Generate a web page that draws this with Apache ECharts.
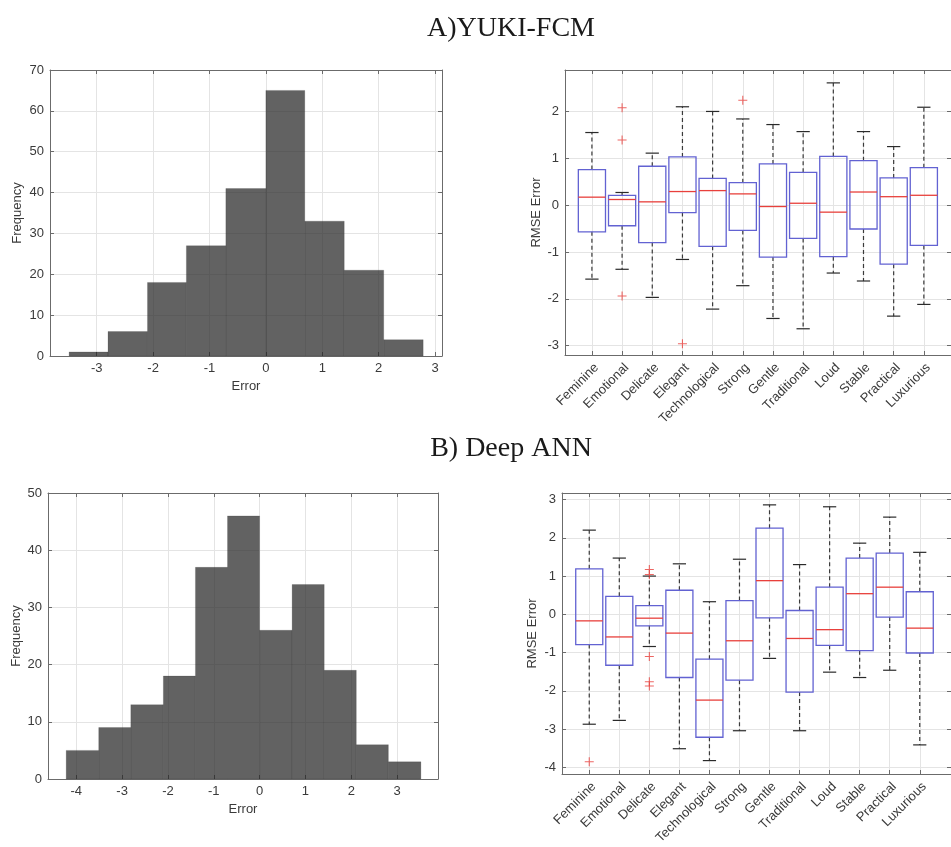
<!DOCTYPE html>
<html><head><meta charset="utf-8">
<script src="https://cdn.jsdelivr.net/npm/echarts@6/dist/echarts.min.js"></script>
<style>html,body{margin:0;padding:0;background:#fff}#c{width:951px;height:847px}</style>
</head><body><div id="c"></div>
<script>
// ---------- data ----------
const titles = ['A)YUKI-FCM', 'B) Deep ANN'];
const categories = ['Feminine','Emotional','Delicate','Elegant','Technological','Strong','Gentle','Traditional','Loud','Stable','Practical','Luxurious'];

// Histogram A (YUKI-FCM)
const histEdgesA = [-3.49, -2.80, -2.10, -1.41, -0.71, 0.00, 0.69, 1.39, 2.09, 2.79];
const histCountsA = [1, 6, 18, 27, 41, 65, 33, 21, 4];
const errTicksA = [-3, -2, -1, 0, 1, 2, 3];
const freqTicksA = [0, 10, 20, 30, 40, 50, 60, 70];

// Histogram B (Deep ANN)
const histEdgesB = [-4.22, -3.51, -2.81, -2.10, -1.40, -0.70, 0.00, 0.71, 1.41, 2.11, 2.81, 3.52];
const histCountsB = [5, 9, 13, 18, 37, 46, 26, 34, 19, 6, 3];
const errTicksB = [-4, -3, -2, -1, 0, 1, 2, 3];
const freqTicksB = [0, 10, 20, 30, 40, 50];

// Box plot A: [min, Q1, median, Q3, max]
const boxA = [
  [-1.58, -0.57, 0.17, 0.76, 1.55],
  [-1.37, -0.44, 0.12, 0.21, 0.27],
  [-1.97, -0.80, 0.07, 0.83, 1.11],
  [-1.16, -0.16, 0.29, 1.03, 2.10],
  [-2.22, -0.88, 0.31, 0.57, 2.00],
  [-1.72, -0.54, 0.24, 0.48, 1.84],
  [-2.42, -1.11, -0.03, 0.88, 1.72],
  [-2.64, -0.71, 0.04, 0.70, 1.57],
  [-1.45, -1.10, -0.15, 1.04, 2.61],
  [-1.62, -0.51, 0.28, 0.95, 1.57],
  [-2.37, -1.26, 0.18, 0.58, 1.25],
  [-2.12, -0.86, 0.21, 0.80, 2.09]
];
const outlierCatA = [2, 2, 2, 4, 6];
const outlierValA = [2.08, 1.39, -1.94, -2.96, 2.24];
const rmseTicksA = [-3, -2, -1, 0, 1, 2];

// Box plot B
const boxB = [
  [-2.87, -0.79, -0.17, 1.19, 2.20],
  [-2.77, -1.33, -0.59, 0.47, 1.47],
  [-0.84, -0.30, -0.10, 0.23, 1.00],
  [-3.51, -1.65, -0.49, 0.63, 1.32],
  [-3.82, -3.21, -2.24, -1.17, 0.33],
  [-3.04, -1.72, -0.69, 0.36, 1.44],
  [-1.15, -0.09, 0.88, 2.25, 2.86],
  [-3.04, -2.03, -0.63, 0.10, 1.30],
  [-1.51, -0.81, -0.40, 0.71, 2.81],
  [-1.65, -0.95, 0.54, 1.47, 1.86],
  [-1.46, -0.07, 0.71, 1.60, 2.54],
  [-3.41, -1.01, -0.36, 0.59, 1.62]
];
const outlierCatB = [1, 3, 3, 3, 3, 3];
const outlierValB = [-3.85, 1.17, 1.04, -1.10, -1.76, -1.87];
const rmseTicksB = [-4, -3, -2, -1, 0, 1, 2, 3];
const catTicks = [1,2,3,4,5,6,7,8,9,10,11,12];

// ---------- styling / layout ----------
const FONT = 'Liberation Sans';
const FS = 13;
const frameColor = '#6b6b6b';
const gridLineColor = '#e4e4e4';
const labelColor = '#3a3a3a';

const grids = [
  { left: 50, top: 70, width: 392, height: 286 },    // hist A
  { left: 565, top: 70, width: 392, height: 285 },   // box A
  { left: 48, top: 493, width: 390, height: 286 },   // hist B
  { left: 562, top: 493, width: 395, height: 286 }   // box B
];
const ranges = {
  histA: { x: [-3.829, 3.124], y: [0, 70] },
  boxA:  { x: [0.108, 12.9], y: [-3.2, 2.885] },
  histB: { x: [-4.617, 3.893], y: [0, 50] },
  boxB:  { x: [0.093, 13.04], y: [-4.17, 3.17] }
};

function mainAxis(gi, pos, rng, ticks, extra) {
  const a = {
    type: 'value', gridIndex: gi, position: pos, min: rng[0], max: rng[1],
    axisLine: { show: true, onZero: false, lineStyle: { color: frameColor, width: 1 } },
    axisTick: { show: true, inside: true, length: 4, customValues: ticks, lineStyle: { color: frameColor } },
    axisLabel: { show: true, customValues: ticks, color: labelColor, fontFamily: FONT, fontSize: FS, margin: 6 },
    splitLine: { show: true, lineStyle: { color: gridLineColor, width: 1 } },
    nameTextStyle: { color: labelColor, fontFamily: FONT, fontSize: FS }
  };
  return Object.assign(a, extra || {});
}
function mirrorAxis(gi, pos, rng, ticks) {
  return {
    type: 'value', gridIndex: gi, position: pos, min: rng[0], max: rng[1],
    axisLine: { show: true, onZero: false, lineStyle: { color: frameColor, width: 1 } },
    axisTick: { show: true, inside: true, length: 4, customValues: ticks, lineStyle: { color: frameColor } },
    axisLabel: { show: false, customValues: ticks },
    splitLine: { show: false }
  };
}
const catFormatter = v => categories[Math.round(v) - 1] || '';
const catLabel = { customValues: catTicks, rotate: 45, formatter: catFormatter, verticalAlign: 'top',
  color: labelColor, fontFamily: FONT, fontSize: FS, margin: 6 };

const xAxes = [
  mainAxis(0, 'bottom', ranges.histA.x, errTicksA, { name: 'Error', nameLocation: 'middle', nameGap: 24 }),
  mainAxis(1, 'bottom', ranges.boxA.x, catTicks, { axisLabel: catLabel }),
  mainAxis(2, 'bottom', ranges.histB.x, errTicksB, { name: 'Error', nameLocation: 'middle', nameGap: 24 }),
  mainAxis(3, 'bottom', ranges.boxB.x, catTicks, { axisLabel: catLabel }),
  mirrorAxis(0, 'top', ranges.histA.x, errTicksA),
  mirrorAxis(1, 'top', ranges.boxA.x, catTicks),
  mirrorAxis(2, 'top', ranges.histB.x, errTicksB),
  mirrorAxis(3, 'top', ranges.boxB.x, catTicks)
];
const yAxes = [
  mainAxis(0, 'left', ranges.histA.y, freqTicksA, { name: 'Frequency', nameLocation: 'middle', nameGap: 26 }),
  mainAxis(1, 'left', ranges.boxA.y, rmseTicksA, { name: 'RMSE Error', nameLocation: 'middle', nameGap: 22 }),
  mainAxis(2, 'left', ranges.histB.y, freqTicksB, { name: 'Frequency', nameLocation: 'middle', nameGap: 25 }),
  mainAxis(3, 'left', ranges.boxB.y, rmseTicksB, { name: 'RMSE Error', nameLocation: 'middle', nameGap: 23 }),
  mirrorAxis(0, 'right', ranges.histA.y, freqTicksA),
  mirrorAxis(1, 'right', ranges.boxA.y, rmseTicksA),
  mirrorAxis(2, 'right', ranges.histB.y, freqTicksB),
  mirrorAxis(3, 'right', ranges.boxB.y, rmseTicksB)
];

function histData(edges, counts) {
  return counts.map((c, i) => [edges[i], edges[i + 1], c]);
}
function histSeries(gi, edges, counts) {
  return {
    type: 'custom', xAxisIndex: gi, yAxisIndex: gi,
    data: histData(edges, counts),
    encode: { x: [0, 1], y: 2 },
    renderItem: function (params, api) {
      const p0 = api.coord([api.value(0), api.value(2)]);
      const p1 = api.coord([api.value(1), 0]);
      return {
        type: 'rect',
        shape: { x: p0[0], y: p0[1], width: p1[0] - p0[0], height: p1[1] - p0[1] },
        style: { fill: 'rgba(38,38,38,0.72)', stroke: 'rgba(38,38,38,0.35)', lineWidth: 0.5 }
      };
    },
    z: 3
  };
}
function boxData(box) {
  return box.map((b, i) => [i + 1].concat(b));
}
function boxSeries(gi, box) {
  return {
    type: 'custom', xAxisIndex: gi, yAxisIndex: gi,
    data: boxData(box),
    encode: { x: 0, y: [1, 2, 3, 4, 5] },
    renderItem: function (params, api) {
      const x = api.value(0);
      const pMin = api.coord([x, api.value(1)]);
      const pQ1 = api.coord([x, api.value(2)]);
      const pMed = api.coord([x, api.value(3)]);
      const pQ3 = api.coord([x, api.value(4)]);
      const pMax = api.coord([x, api.value(5)]);
      const unit = api.size([1, 0])[0];
      const hw = unit * 0.45;
      const cw = unit * 0.22;
      const cx = pMed[0];
      const wStyle = { stroke: '#3a3a3a', lineWidth: 1.2, lineDash: [4, 3] };
      const cStyle = { stroke: '#2a2a2a', lineWidth: 1.2 };
      return {
        type: 'group',
        children: [
          { type: 'line', shape: { x1: cx, y1: pQ3[1], x2: cx, y2: pMax[1] }, style: wStyle },
          { type: 'line', shape: { x1: cx, y1: pQ1[1], x2: cx, y2: pMin[1] }, style: wStyle },
          { type: 'line', shape: { x1: cx - cw, y1: pMax[1], x2: cx + cw, y2: pMax[1] }, style: cStyle },
          { type: 'line', shape: { x1: cx - cw, y1: pMin[1], x2: cx + cw, y2: pMin[1] }, style: cStyle },
          { type: 'rect', shape: { x: cx - hw, y: pQ3[1], width: 2 * hw, height: pQ1[1] - pQ3[1] },
            style: { fill: 'rgba(255,255,255,0)', stroke: '#6262d2', lineWidth: 1.3 } },
          { type: 'line', shape: { x1: cx - hw, y1: pMed[1], x2: cx + hw, y2: pMed[1] },
            style: { stroke: '#e8403c', lineWidth: 1.3 } }
        ]
      };
    },
    z: 3
  };
}
const plusPath = 'path://M4.4,0H5.6V4.4H10V5.6H5.6V10H4.4V5.6H0V4.4H4.4Z';
function outlierSeries(gi, cats, vals) {
  return {
    type: 'scatter', xAxisIndex: gi, yAxisIndex: gi,
    data: cats.map((c, i) => [c, vals[i]]),
    symbol: plusPath, symbolSize: 9,
    itemStyle: { color: '#e8403c' },
    z: 4
  };
}

const option = {
  animation: false,
  backgroundColor: '#ffffff',
  title: [
    { text: titles[0], left: 506, top: 10, textAlign: 'center',
      textStyle: { fontFamily: 'Liberation Serif', fontSize: 28, fontWeight: 'normal', color: '#1a1a1a' } },
    { text: titles[1], left: 506, top: 430, textAlign: 'center',
      textStyle: { fontFamily: 'Liberation Serif', fontSize: 28, fontWeight: 'normal', color: '#1a1a1a' } }
  ],
  grid: grids.map(g => Object.assign({ show: false, containLabel: false }, g)),
  xAxis: xAxes,
  yAxis: yAxes,
  series: [
    histSeries(0, histEdgesA, histCountsA),
    boxSeries(1, boxA),
    outlierSeries(1, outlierCatA, outlierValA),
    histSeries(2, histEdgesB, histCountsB),
    boxSeries(3, boxB),
    outlierSeries(3, outlierCatB, outlierValB)
  ]
};
const chart = echarts.init(document.getElementById('c'), null, { renderer: 'canvas' });
chart.setOption(option);
</script>
</body></html>
